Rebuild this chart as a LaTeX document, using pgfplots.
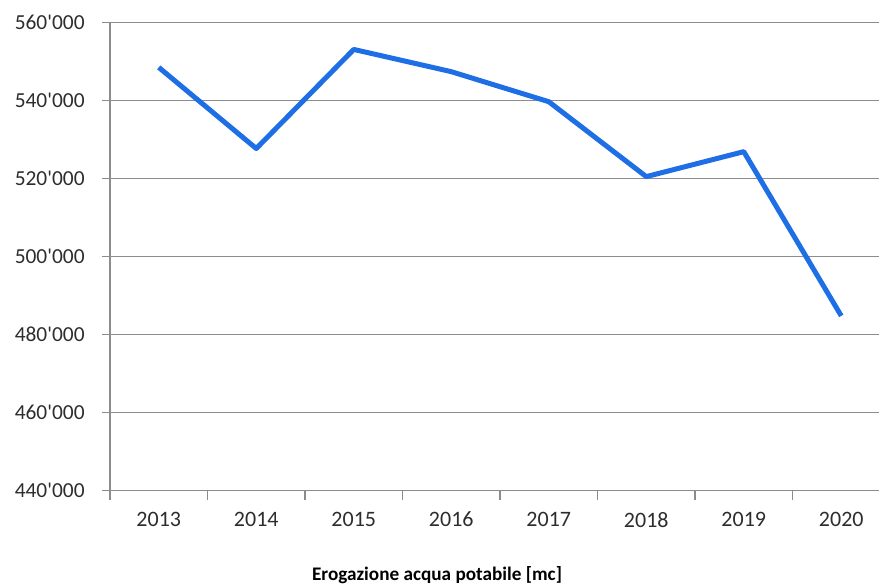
\documentclass[border=0pt]{standalone}
\usepackage{fontspec}
\setmainfont{Carlito}
\usepackage{pgfplots}
\pgfplotsset{compat=1.18}

\definecolor{linea}{RGB}{30,110,230}
\definecolor{griglia}{RGB}{140,140,140}
\definecolor{testo}{RGB}{45,45,45}

\newcommand{\q}{\textquotesingle}

\begin{document}
\begin{tikzpicture}
  \path[use as bounding box] (-55pt,-47.65pt) rectangle (384.5pt,245.35pt);
  \begin{axis}[
      at={(0,0)}, anchor=south west,
      scale only axis,
      width=384.5pt, height=234.1pt,
      xmin=-0.5, xmax=7.387,
      ymin=440000, ymax=560000,
      axis x line*=bottom,
      axis y line*=left,
      axis line style={griglia, line width=0.6pt},
      xtick={0,...,7},
      xticklabels={2013,2014,2015,2016,2017,2018,2019,2020},
      minor xtick={-0.5,0.5,...,6.5},
      major x tick style={draw=none},
      minor x tick style={griglia, line width=0.6pt},
      ytick={440000,460000,...,560000},
      yticklabels={440\q000,460\q000,480\q000,500\q000,520\q000,540\q000,560\q000},
      scaled y ticks=false,
      y tick style={griglia, line width=0.6pt},
      tick align=outside,
      major tick length=4pt,
      minor tick length=4.5pt,
      ymajorgrids=true,
      grid style={griglia, line width=0.6pt},
      xticklabel style={font=\fontsize{11}{13}\selectfont, text=testo,
                        anchor=north, inner sep=0pt, yshift=-6.5pt},
      yticklabel style={font=\fontsize{10.7}{13}\selectfont, text=testo,
                        anchor=east, inner ysep=0pt, inner xsep=8.5pt},
      clip=false,
    ]
    % Erogazione acqua potabile [mc]
    \addplot[linea, line width=2.5pt, line join=round, mark=none]
      coordinates {
        (0,548500) (1,527700) (2,553100) (3,547400)
        (4,539700) (5,520500) (6,526900) (7,484800)
      };
  \end{axis}
  \node[font=\fontsize{9.6}{12}\selectfont\bfseries, text=black]
    at (163.5pt,-42.15pt) {Erogazione acqua potabile [mc]};
\end{tikzpicture}
\end{document}
